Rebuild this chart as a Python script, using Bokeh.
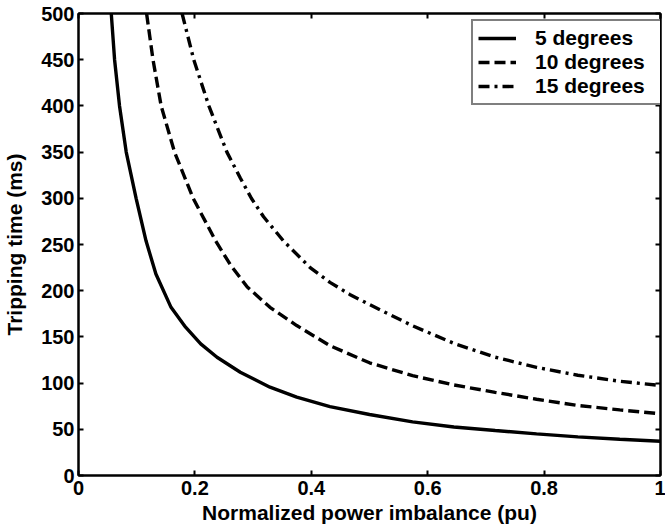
from bokeh.plotting import figure
from bokeh.models import (LinearAxis, FixedTicker, CustomJSTickFormatter, Range1d, Legend,
                          LegendItem, CustomLabelingPolicy)
from bokeh.embed import file_html
from bokeh.resources import INLINE

# ---- data ----
x_5deg = [0.0563, 0.062, 0.0705, 0.082, 0.099, 0.116, 0.133, 0.159, 0.184, 0.210, 0.238,
          0.278, 0.329, 0.375, 0.432, 0.500, 0.574, 0.645, 0.716, 0.787, 0.858, 0.930, 1.000]
t_5deg = [500, 450, 400, 350, 300, 254, 218, 182, 160.5, 142.5, 128,
          111.8, 95.6, 84.8, 74.5, 66, 58, 52.5, 48.7, 45, 41.8, 39.2, 37]

x_10deg = [0.117, 0.128, 0.142, 0.165, 0.197, 0.2355, 0.261, 0.290, 0.329, 0.375, 0.432,
           0.500, 0.574, 0.645, 0.716, 0.787, 0.858, 0.930, 1.000]
t_10deg = [500, 450, 400, 350, 300, 254, 228, 204, 182, 162.3, 140.5,
           122, 108, 98, 90, 82.5, 75.8, 71, 66.8]

x_15deg = [0.178, 0.198, 0.224, 0.255, 0.278, 0.297, 0.318, 0.352, 0.398, 0.432,
           0.466, 0.500, 0.574, 0.645, 0.716, 0.787, 0.858, 0.930, 1.000]
t_15deg = [500, 450, 400, 350, 322, 300, 280, 254, 225, 209,
           196, 185, 162, 143, 128, 117, 108.5, 102, 97.4]

series_labels = ["5 degrees", "10 degrees", "15 degrees"]
x_ticks = [0, 0.2, 0.4, 0.6, 0.8, 1]
y_ticks = [0, 50, 100, 150, 200, 250, 300, 350, 400, 450, 500]
x_label = "Normalized power imbalance (pu)"
y_label = "Tripping time (ms)"

FONT = "Liberation Sans"

p = figure(width=665, height=529, output_backend="svg", toolbar_location=None,
           x_range=Range1d(0, 1), y_range=Range1d(0, 500),
           min_border_left=77, min_border_right=2, min_border_top=13, min_border_bottom=54,
           background_fill_color="white", border_fill_color="white")
p.outline_line_color = "black"
p.outline_line_width = 2
p.xgrid.visible = False
p.ygrid.visible = False

LW = 3.4
r1 = p.line(x_5deg, t_5deg, line_color="black", line_width=LW)
r2 = p.line(x_10deg, t_10deg, line_color="black", line_width=LW, line_dash="11 5")
r3 = p.line(x_15deg, t_15deg, line_color="black", line_width=LW, line_dash="11 5 3 5")

fmt = CustomJSTickFormatter(code="return String(tick);")
no_labels = CustomLabelingPolicy(code="""
try { for (let i = 0; i < indices.size; i++) { indices.unset(i) } } catch (e) {}
return indices;
""")

def style(ax, ticks, labels=True):
    ax.ticker = FixedTicker(ticks=ticks)
    ax.minor_tick_line_color = None
    ax.major_tick_in = 5
    ax.major_tick_out = 0
    ax.major_tick_line_width = 2
    ax.major_tick_line_color = "black"
    ax.axis_line_color = "black"
    ax.axis_line_width = 2
    if labels:
        ax.major_label_text_font = FONT
        ax.major_label_text_font_style = "bold"
        ax.major_label_text_font_size = "20px"
        ax.major_label_text_color = "black"
        ax.axis_label_text_font = FONT
        ax.axis_label_text_font_style = "bold"
        ax.axis_label_text_font_size = "21px"
        ax.axis_label_text_color = "black"
    else:
        ax.major_label_policy = no_labels
        ax.major_label_text_font_size = "1px"
        ax.major_label_standoff = 0

xa = p.xaxis[0]
style(xa, x_ticks)
xa.formatter = fmt
xa.axis_label = x_label
xa.major_label_standoff = 5
xa.axis_label_standoff = 3

ya = p.yaxis[0]
style(ya, y_ticks)
ya.axis_label = y_label
ya.major_label_standoff = 4
ya.axis_label_standoff = 12

top_ax = LinearAxis()
style(top_ax, x_ticks, labels=False)
p.add_layout(top_ax, "above")
right_ax = LinearAxis()
style(right_ax, y_ticks, labels=False)
p.add_layout(right_ax, "right")

legend = Legend(items=[LegendItem(label=series_labels[0], renderers=[r1]),
                       LegendItem(label=series_labels[1], renderers=[r2]),
                       LegendItem(label=series_labels[2], renderers=[r3])],
                location=(393, 370))
legend.margin = 0
legend.padding = 5
legend.spacing = 0
legend.glyph_width = 38
legend.glyph_height = 20
legend.label_standoff = 19
legend.label_width = 121
legend.label_text_font = FONT
legend.label_text_font_style = "bold"
legend.label_text_font_size = "21px"
legend.label_text_color = "black"
legend.border_line_color = "black"
legend.border_line_width = 2
legend.background_fill_color = "white"
legend.background_fill_alpha = 1
p.add_layout(legend, "center")

open("out.html", "w").write(file_html(p, INLINE))
